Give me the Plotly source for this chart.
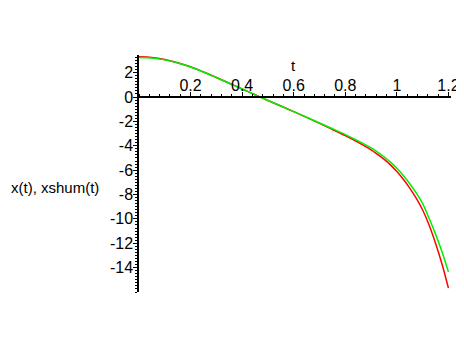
import plotly.graph_objects as go

t_vals = [0, 0.05, 0.1, 0.15, 0.2, 0.25, 0.3, 0.35, 0.4, 0.45, 0.5, 0.55, 0.6, 0.65,
          0.7, 0.75, 0.8, 0.85, 0.9, 0.925, 0.95, 0.975, 1.0, 1.025, 1.05, 1.075, 1.1,
          1.125, 1.15, 1.175, 1.2]
x_red = [3.3, 3.25, 3.08, 2.82, 2.48, 2.06, 1.6, 1.13, 0.66, 0.19, -0.28, -0.74, -1.2, -1.67,
         -2.16, -2.66, -3.17, -3.72, -4.33, -4.7, -5.1, -5.57, -6.12, -6.75, -7.47, -8.3, -9.27,
         -10.5, -12.0, -13.7, -15.68]
x_green = [3.25, 3.21, 3.05, 2.8, 2.47, 2.06, 1.6, 1.13, 0.66, 0.19, -0.28, -0.74, -1.2, -1.66,
           -2.13, -2.6, -3.08, -3.6, -4.18, -4.52, -4.9, -5.34, -5.85, -6.44, -7.12, -7.87, -8.75,
           -9.95, -11.25, -12.7, -14.35]

x_tickvals = [0.2, 0.4, 0.6, 0.8, 1.0, 1.2]
x_ticktext = ["0.2", "0.4", "0.6", "0.8", "1", "1.2"]
y_tickvals = [2, 0, -2, -4, -6, -8, -10, -12, -14]
y_ticktext = ["2", "0", "-2", "-4", "-6", "-8", "-10", "-12", "-14"]

XR = [0, 1.21]
YR = [-16, 3.45]
OFF = 8  # default page body margin
W, H = 464, 347
L, R, T, B = 139 - OFF, 13 + OFF, 55 - OFF, 55 + OFF
plot_w = W - L - R
plot_h = H - T - B

def px_to_paper_x(px):
    return (px - OFF - L) / plot_w

def px_to_paper_y(py):
    return (H - B - (py - OFF)) / plot_h

fig = go.Figure()
fig.add_trace(go.Scatter(x=t_vals, y=x_red, mode="lines",
                         line=dict(color="#ff0000", width=1.5, shape="spline", smoothing=1.0), name="x(t)"))
fig.add_trace(go.Scatter(x=t_vals, y=x_green, mode="lines",
                         line=dict(color="#00ee00", width=1.5, shape="spline", smoothing=1.0), name="xshum(t)"))

tick_font = dict(family="Liberation Sans, Arial, sans-serif", size=16, color="black")
title_font = dict(family="Liberation Sans, Arial, sans-serif", size=15, color="black")
fig.update_layout(
    width=W, height=H,
    margin=dict(l=L, r=R, t=T, b=B, autoexpand=False),
    paper_bgcolor="white", plot_bgcolor="white",
    showlegend=False, hovermode=False,
    font=title_font,
    xaxis=dict(range=XR, anchor="free", position=(0 - YR[0]) / (YR[1] - YR[0]), side="top",
               automargin=False, ticklabelstandoff=-5,
               showline=True, linecolor="black", linewidth=1.5, showgrid=False, zeroline=False,
               tickvals=x_tickvals, ticktext=x_ticktext, ticks="outside", ticklen=4, tickcolor="black",
               minor=dict(dtick=0.04, tick0=0, ticks="outside", ticklen=2, tickcolor="black"),
               tickfont=tick_font, fixedrange=True),
    yaxis=dict(range=YR, automargin=False, ticklabelstandoff=-3,
               showline=True, linecolor="black", linewidth=1.5, showgrid=False, zeroline=False,
               tickvals=y_tickvals, ticktext=y_ticktext, ticks="outside", ticklen=4, tickcolor="black",
               minor=dict(dtick=0.25, tick0=0, ticks="outside", ticklen=2, tickcolor="black"),
               tickfont=tick_font, fixedrange=True),
    annotations=[
        dict(text="t", x=0.6, xref="x", y=px_to_paper_y(65), yref="paper",
             showarrow=False, font=title_font, yanchor="middle"),
        dict(text="x(t), xshum(t)", x=px_to_paper_x(9), xref="paper", y=px_to_paper_y(187),
             yref="paper", showarrow=False, xanchor="left", yanchor="middle", font=title_font),
    ],
)

fig.write_html("out.html", config=dict(displayModeBar=False))
